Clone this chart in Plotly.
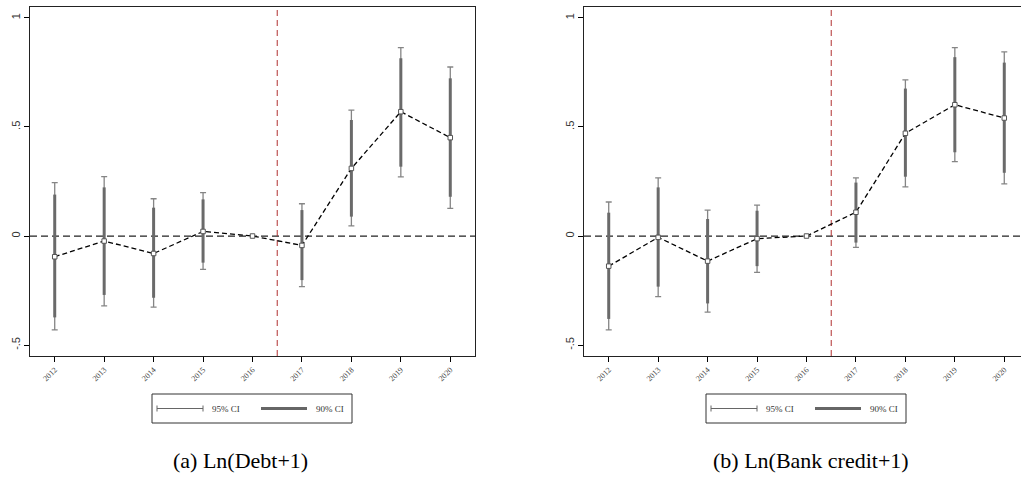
import plotly.graph_objects as go

years = [2012, 2013, 2014, 2015, 2016, 2017, 2018, 2019, 2020]
year_labels = [str(y) for y in years]

# Panel (a) Ln(Debt+1)
debt_coef = [-0.095, -0.023, -0.080, 0.021, 0.0, -0.043, 0.310, 0.570, 0.451]
debt_lo95 = [-0.430, -0.320, -0.326, -0.153, None, -0.232, 0.047, 0.271, 0.127]
debt_hi95 = [0.245, 0.272, 0.171, 0.199, None, 0.148, 0.577, 0.864, 0.775]
debt_lo90 = [-0.373, -0.270, -0.283, -0.122, None, -0.202, 0.089, 0.318, 0.180]
debt_hi90 = [0.190, 0.223, 0.130, 0.168, None, 0.119, 0.532, 0.815, 0.723]

# Panel (b) Ln(Bank credit+1)
bank_coef = [-0.138, -0.006, -0.115, -0.012, 0.0, 0.109, 0.471, 0.602, 0.541]
bank_lo95 = [-0.430, -0.278, -0.349, -0.167, None, -0.052, 0.225, 0.341, 0.239]
bank_hi95 = [0.156, 0.267, 0.119, 0.142, None, 0.267, 0.716, 0.864, 0.844]
bank_lo90 = [-0.380, -0.232, -0.309, -0.138, None, -0.030, 0.272, 0.384, 0.290]
bank_hi90 = [0.107, 0.223, 0.078, 0.116, None, 0.245, 0.676, 0.820, 0.795]

y_tickvals = [-0.5, 0, 0.5, 1]
y_ticktext = ["-.5", "0", ".5", "1"]
legend_labels = ["95% CI", "90% CI"]
captions = ["(a) Ln(Debt+1)", "(b) Ln(Bank credit+1)"]
event_x = 2016.5

W, H = 1021, 495
def px(x):
    return x / W
def py(y):
    return 1 - y / H

fig = go.Figure()

def add_panel(coef, lo95, hi95, lo90, hi90, xa, ya):
    idx = [i for i in range(len(years)) if lo95[i] is not None]
    xs = [years[i] for i in idx]
    cs = [coef[i] for i in idx]
    fig.add_trace(go.Scatter(
        x=xs, y=cs, mode="markers", xaxis=xa, yaxis=ya,
        marker=dict(size=1, color="rgba(0,0,0,0)"),
        error_y=dict(type="data", symmetric=False,
                     array=[hi95[i] - coef[i] for i in idx],
                     arrayminus=[coef[i] - lo95[i] for i in idx],
                     color="#858585", thickness=1.3, width=3),
        hoverinfo="skip"))
    fig.add_trace(go.Scatter(
        x=xs, y=cs, mode="markers", xaxis=xa, yaxis=ya,
        marker=dict(size=1, color="rgba(0,0,0,0)"),
        error_y=dict(type="data", symmetric=False,
                     array=[hi90[i] - coef[i] for i in idx],
                     arrayminus=[coef[i] - lo90[i] for i in idx],
                     color="#6a6a6a", thickness=3, width=0),
        hoverinfo="skip"))
    fig.add_trace(go.Scatter(
        x=years, y=coef, mode="lines", xaxis=xa, yaxis=ya,
        line=dict(color="black", width=1.3, dash="5px,3px")))
    fig.add_trace(go.Scatter(
        x=years, y=coef, mode="markers", xaxis=xa, yaxis=ya,
        marker=dict(symbol="square", size=4.5, color="white",
                    line=dict(color="#555555", width=1))))

add_panel(debt_coef, debt_lo95, debt_hi95, debt_lo90, debt_hi90, "x", "y")
add_panel(bank_coef, bank_lo95, bank_hi95, bank_lo90, bank_hi90, "x2", "y2")

ydom = [1 - 356 / H, 1 - 7 / H]
xaxis_common = dict(
    tickvals=years, ticktext=year_labels, tickangle=-45,
    tickfont=dict(family="Liberation Serif", size=8, color="#444444"),
    ticks="outside", ticklen=5, tickcolor="black",
    showline=True, linecolor="#222222", linewidth=1,
    showgrid=False, zeroline=False)
yaxis_common = dict(
    range=[-0.55, 1.05], domain=ydom,
    tickvals=y_tickvals, ticktext=y_ticktext, tickangle=-90,
    tickfont=dict(family="Liberation Sans", size=11, color="#333333"),
    ticks="outside", ticklen=5, tickcolor="black",
    showline=True, linecolor="#222222", linewidth=1,
    showgrid=False, zeroline=False)

r_dom = [584 / W, 1.0]
r_range_end = 2011.5 + 9 * ((W - 584) / (1029 - 584))

fig.update_layout(
    width=W, height=H, margin=dict(l=0, r=0, t=0, b=0),
    paper_bgcolor="white", plot_bgcolor="white", showlegend=False,
    xaxis=dict(xaxis_common, domain=[30 / W, 475 / W], range=[2011.5, 2020.5],
               mirror=True, anchor="y"),
    yaxis=dict(yaxis_common, mirror=True, anchor="x"),
    xaxis2=dict(xaxis_common, domain=r_dom, range=[2011.5, r_range_end],
                mirror=True, anchor="y2"),
    yaxis2=dict(yaxis_common, mirror=False, anchor="x2"),
)

shapes = []
for xr, yr in [("x", "y"), ("x2", "y2")]:
    shapes.append(dict(type="line", xref=xr + " domain", yref=yr, x0=0, x1=1, y0=0, y1=0,
                       line=dict(color="#222222", width=1.2, dash="7px,4px"), layer="below"))
    shapes.append(dict(type="line", xref=xr, yref=yr + " domain", x0=event_x, x1=event_x,
                       y0=0, y1=1, line=dict(color="#b03030", width=1, dash="6px,4px"),
                       layer="below"))

annotations = []
for off in [0, 554]:
    bx0, bx1, by0, by1 = 152 + off, 352 + off, 394, 423
    shapes.append(dict(type="rect", xref="paper", yref="paper",
                       x0=px(bx0), x1=px(bx1), y0=py(by1), y1=py(by0),
                       line=dict(color="#333333", width=1), fillcolor="white"))
    ly = 408.5
    shapes.append(dict(type="line", xref="paper", yref="paper",
                       x0=px(157 + off), x1=px(203 + off), y0=py(ly), y1=py(ly),
                       line=dict(color="#666666", width=1)))
    for cx in [157 + off, 203 + off]:
        shapes.append(dict(type="line", xref="paper", yref="paper",
                           x0=px(cx), x1=px(cx), y0=py(ly - 3), y1=py(ly + 3),
                           line=dict(color="#666666", width=1)))
    shapes.append(dict(type="line", xref="paper", yref="paper",
                       x0=px(261 + off), x1=px(307 + off), y0=py(ly), y1=py(ly),
                       line=dict(color="#666666", width=3)))
    annotations.append(dict(xref="paper", yref="paper", x=px(210 + off), y=py(ly),
                            text=legend_labels[0], showarrow=False, xanchor="left",
                            yanchor="middle",
                            font=dict(family="Liberation Serif", size=9, color="#333333")))
    annotations.append(dict(xref="paper", yref="paper", x=px(314 + off), y=py(ly),
                            text=legend_labels[1], showarrow=False, xanchor="left",
                            yanchor="middle",
                            font=dict(family="Liberation Serif", size=9, color="#333333")))

annotations.append(dict(xref="paper", yref="paper", x=px(240), y=py(460), text=captions[0],
                        showarrow=False, xanchor="center", yanchor="middle",
                        font=dict(family="Liberation Serif", size=22, color="black")))
annotations.append(dict(xref="paper", yref="paper", x=px(811), y=py(460), text=captions[1],
                        showarrow=False, xanchor="center", yanchor="middle",
                        font=dict(family="Liberation Serif", size=22, color="black")))

fig.update_layout(shapes=shapes, annotations=annotations)
fig.write_html("out.html")
